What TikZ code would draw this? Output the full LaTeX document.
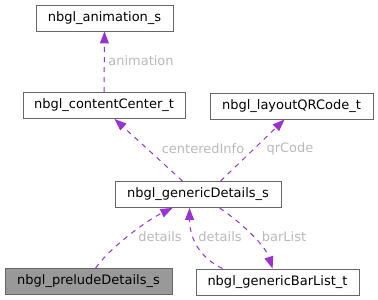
\documentclass[tikz,border=0pt]{standalone}
\usepackage{fontspec}
\setmainfont{DejaVu Sans}
\usetikzlibrary{arrows.meta}
\definecolor{edgecol}{RGB}{154,50,205}
\definecolor{labelcol}{RGB}{185,185,185}
\definecolor{boxline}{RGB}{102,102,102}
\definecolor{boxfill}{RGB}{153,153,153}
\tikzset{
  cls/.style={draw=boxline, line width=0.9pt, fill=white, inner sep=0pt,
    minimum height=26pt, font=\fontsize{13}{15}\selectfont, text=black},
  clsgray/.style={cls, fill=boxfill},
  member/.style={draw=edgecol, line width=1pt, dash pattern=on 5pt off 5pt,
    -{Triangle[length=12pt,width=9pt]}},
  elabel/.style={text=labelcol, inner sep=0pt, font=\fontsize{13}{15}\selectfont}
}
\begin{document}
\begin{tikzpicture}[x=1pt,y=-1pt]
\useasboundingbox (0,0) rectangle (378,300);

% classes
\node[cls, minimum width=137pt] (anim) at (104.5,18) {nbgl\_animation\_s};
\node[cls, minimum width=162pt] (cc) at (104,105.5) {nbgl\_contentCenter\_t};
\node[cls, minimum width=163pt] (qr) at (291.5,106) {nbgl\_layoutQRCode\_t};
\node[cls, minimum width=166pt] (gd) at (198,194.5) {nbgl\_genericDetails\_s};
\node[clsgray, minimum width=167pt] (pd) at (88.5,281.5) {nbgl\_preludeDetails\_s};
\node[cls, minimum width=163pt] (bl) at (277.5,282) {nbgl\_genericBarList\_t};

% member relations
\draw[member] (cc.north) -- (anim.south);
\draw[member] ([xshift=68pt]gd.north west) -- ([xshift=92pt]cc.south west);
\draw[member] ([xshift=106pt]gd.north west) -- ([xshift=75pt]qr.south west);
\draw[member] ([xshift=91pt]pd.north west)
  .. controls +(16,-22) and +(-25,12) .. ([xshift=58pt]gd.south west);
\draw[member] ([xshift=27pt]bl.north west)
  .. controls +(-25,-12) and +(0,28) .. ([xshift=75pt]gd.south west);
\draw[member] ([xshift=105pt]gd.south west)
  .. controls +(18,12) and +(-8,-25) .. ([xshift=77pt]bl.north west);

% member names
\node[elabel] (l1) at (141,61) {animation};
\node[elabel] (l2) at (203,149) {centeredInfo};
\node[elabel] (l3) at (290,149) {qrCode};
\node[elabel] (l4) at (160,237) {details};
\node[elabel] (l5) at (220,237) {details};
\node[elabel] (l6) at (284,237) {barList};
\end{tikzpicture}
\end{document}
